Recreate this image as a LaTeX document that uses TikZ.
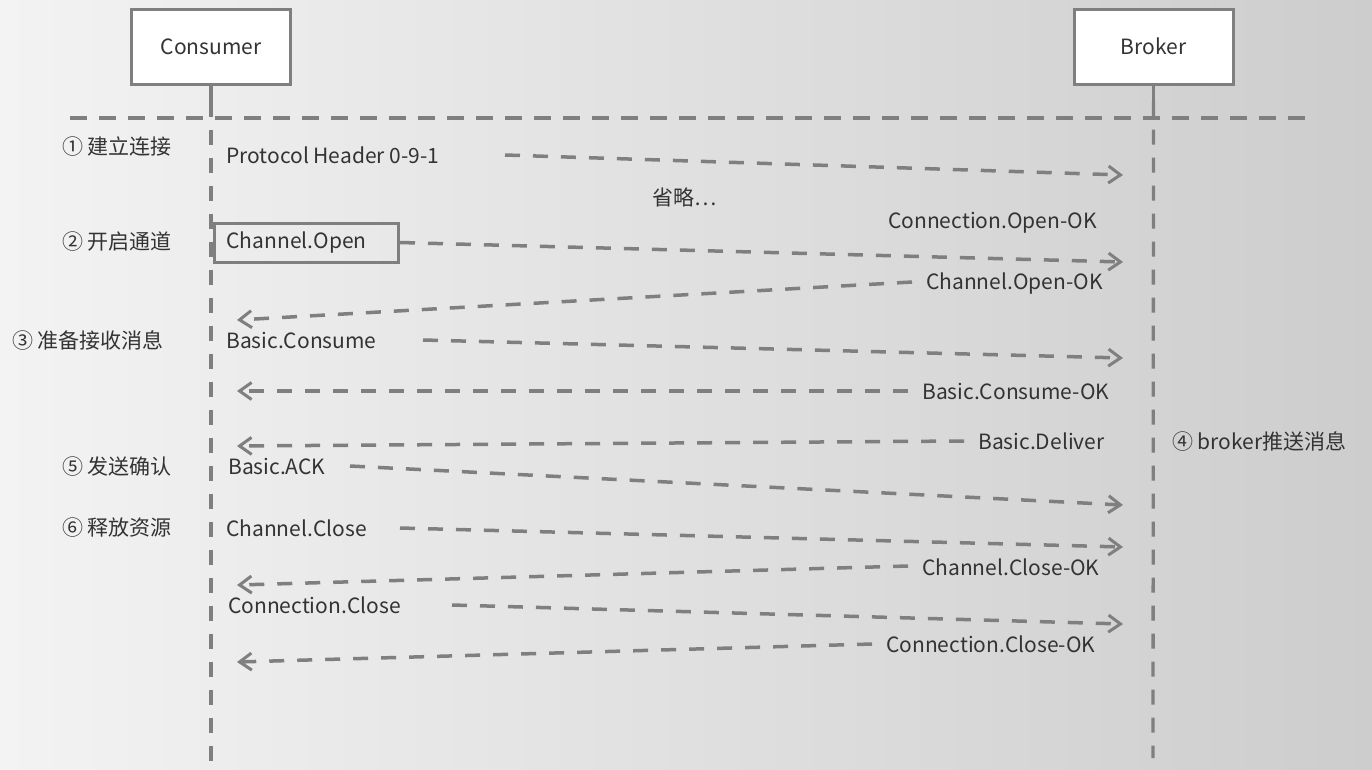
\documentclass[tikz,border=0pt]{standalone}
\usepackage{fontspec}
\setmainfont{Noto Sans CJK SC}
\usetikzlibrary{arrows.meta}
\definecolor{bgL}{HTML}{F3F3F3}
\definecolor{bgR}{HTML}{CDCDCD}
\definecolor{ln}{HTML}{7F7F7F}
\definecolor{tx}{HTML}{333333}
\tikzset{
  lbl/.style={anchor=base west, inner sep=0pt, text=tx, font=\fontsize{21}{25}\selectfont},
  actor/.style={draw=ln, line width=3pt, fill=white, minimum width=159pt, minimum height=75pt, text=tx, font=\fontsize{21}{25}\selectfont},
  life/.style={draw=ln, line width=3.3pt, dash pattern=on 15pt off 13pt},
  sep/.style={draw=ln, line width=3.3pt, dash pattern=on 17pt off 12pt},
  msg/.style={draw=ln, line width=3.5pt, dash pattern=on 15pt off 13pt, -{Straight Barb[length=12pt,width=17pt,line width=3pt]}},
}
\begin{document}
\begin{tikzpicture}[x=1pt,y=-1pt]
\useasboundingbox (0,0) rectangle (1372,769);
\fill[left color=bgL, right color=bgR] (0,0) rectangle (1372,769);

% actors
\node[actor] (cons) at (211,46.5) {Consumer};
\node[actor] (brok) at (1153.5,46.5) {Broker};

% lifelines
\coordinate (consEnd) at (211,769);
\coordinate (brokEnd) at (1153,758);
\draw[draw=ln, line width=3.3pt] (cons.south) -- ++(0,16);
\draw[life] (cons.south) ++(0,16) coordinate (c1) -- (consEnd);
\draw[draw=ln, line width=3.3pt] (brok.south) -- ++(0,16);
\draw[life] (brok.south) ++(0,16) coordinate (b1) -- (brokEnd);

% separator
\coordinate (sepL) at (70,118);
\coordinate (sepR) at (1306,118);
\draw[sep] (sepL) -- (sepR);

% step labels
\node[lbl] (s1) at (62,154) {① 建立连接};
\node[lbl] (s2) at (62,249) {② 开启通道};
\node[lbl] (s3) at (12,348) {③ 准备接收消息};
\node[lbl] (s5) at (62,474) {⑤ 发送确认};
\node[lbl] (s6) at (62,535) {⑥ 释放资源};
\node[lbl] (s4) at (1172,449) {④ broker推送消息};

% message labels
\node[lbl] (m1) at (226,163) {Protocol Header 0-9-1};
\node[lbl] (omit) at (652,205) {省略⋯};
\node[lbl] (m1ok) at (888,228) {Connection.Open-OK};
\node[anchor=west, draw=ln, line width=3pt, inner xsep=12pt, inner ysep=0pt, minimum height=39pt, text width=160pt, text=tx, font=\fontsize{21}{25}\selectfont] (m2) at (213,242.5) {Channel.Open};
\node[lbl] (m2ok) at (926,289) {Channel.Open-OK};
\node[lbl] (m3) at (226,348) {Basic.Consume};
\node[lbl] (m3ok) at (922,399) {Basic.Consume-OK};
\node[lbl] (m4) at (978,449) {Basic.Deliver};
\node[lbl] (m5) at (228,474) {Basic.ACK};
\node[lbl] (m6) at (226,536) {Channel.Close};
\node[lbl] (m6ok) at (922,575) {Channel.Close-OK};
\node[lbl] (m7) at (228,613) {Connection.Close};
\node[lbl] (m7ok) at (886,652) {Connection.Close-OK};

% arrow endpoints
\coordinate (a1s) at (505,155);  \coordinate (a1e) at (1123,175);
\coordinate (a2e) at (1123,262);
\coordinate (a3s) at (912,282);  \coordinate (a3e) at (237,320);
\coordinate (a4s) at (423,340);  \coordinate (a4e) at (1123,358);
\coordinate (a5s) at (908,391);  \coordinate (a5e) at (237,391);
\coordinate (a6s) at (964,441);  \coordinate (a6e) at (237,446);
\coordinate (a7s) at (350,466);  \coordinate (a7e) at (1123,505);
\coordinate (a8s) at (400,528);  \coordinate (a8e) at (1123,547);
\coordinate (a9s) at (908,566);  \coordinate (a9e) at (237,585);
\coordinate (a10s) at (452,605); \coordinate (a10e) at (1123,624);
\coordinate (a11s) at (872,644); \coordinate (a11e) at (237,662);

\draw[msg] (a1s) -- (a1e);
\draw[msg] (m2.east) -- (a2e);
\draw[msg] (a3s) -- (a3e);
\draw[msg] (a4s) -- (a4e);
\draw[msg] (a5s) -- (a5e);
\draw[msg] (a6s) -- (a6e);
\draw[msg] (a7s) -- (a7e);
\draw[msg] (a8s) -- (a8e);
\draw[msg] (a9s) -- (a9e);
\draw[msg] (a10s) -- (a10e);
\draw[msg] (a11s) -- (a11e);
\end{tikzpicture}
\end{document}
